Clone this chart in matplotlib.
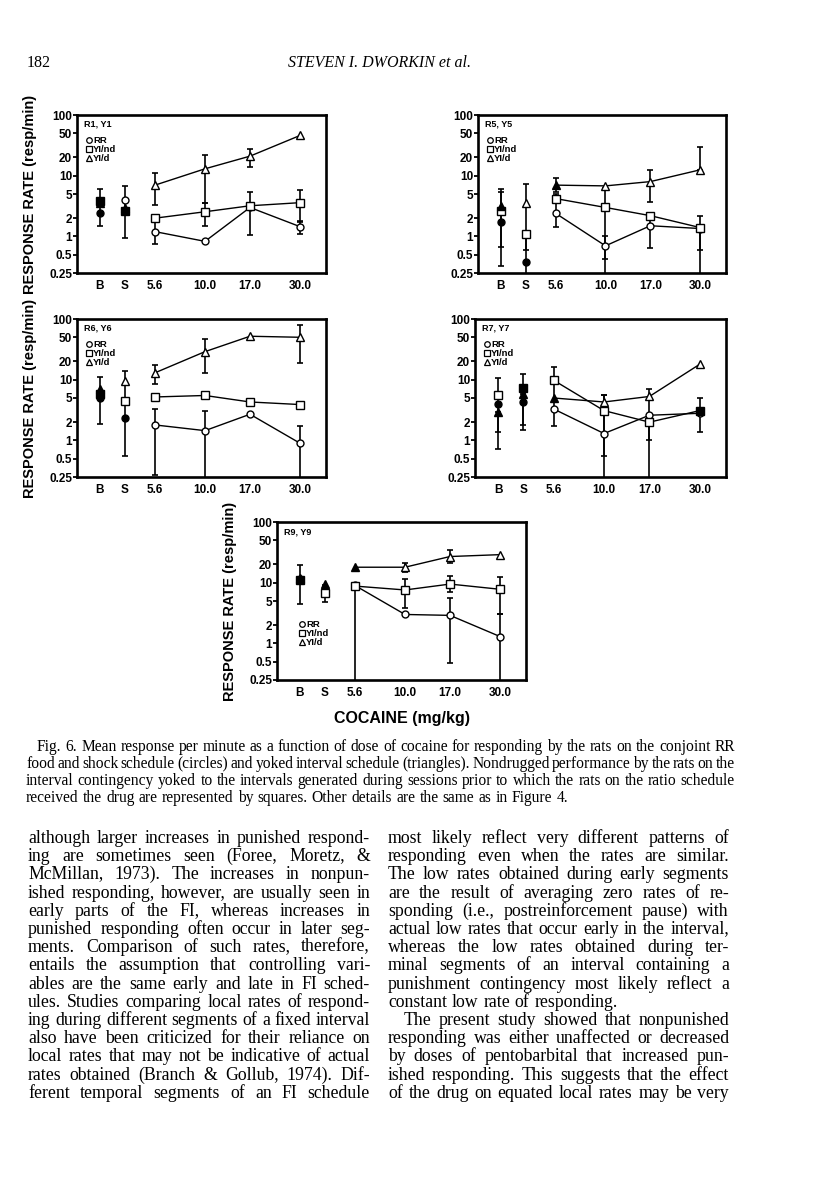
import numpy as np
import matplotlib
matplotlib.use("Agg")
import matplotlib.pyplot as plt
from matplotlib.lines import Line2D

W, H = 816, 1193
nan = np.nan

# x axis: baseline, saline and the cocaine doses
doses = ["B", "S", "5.6", "10.0", "17.0", "30.0"]
dose_pos = [1.0, 2.0, 3.2, 5.2, 7.0, 9.0]
y_ticks = [0.25, 0.5, 1, 2, 5, 10, 20, 50, 100]
y_tick_labels = ["0.25", "0.5", "1", "2", "5", "10", "20", "50", "100"]
series_names = ["RR", "YI/nd", "YI/d"]

# R1, Y1
r1_rr = [2.4, 4.0, 1.2, 0.83, 3.0, 1.45]
r1_rr_lo = [1.5, 0.95, 0.75, nan, 1.05, 1.1]
r1_rr_hi = [6.0, 6.9, 1.9, nan, 5.3, 1.8]
r1_nd = [3.9, 2.6, 2.0, 2.55, 3.2, 3.6]
r1_nd_lo = [nan, nan, nan, 1.5, nan, 1.7]
r1_nd_hi = [nan, nan, nan, 3.6, nan, 5.8]
r1_d = [3.6, 2.9, 7.0, 13.0, 21.0, 46.0]
r1_d_lo = [nan, nan, 3.3, 3.6, 14.0, nan]
r1_d_hi = [nan, nan, 11.0, 22.0, 28.0, nan]

# R5, Y5
r5_rr = [1.7, 0.38, 2.4, 0.7, 1.5, 1.35]
r5_rr_lo = [0.33, 0.2, 1.45, 0.42, 0.65, 0.6]
r5_rr_hi = [6.0, 7.3, 5.0, 1.0, 2.4, 2.2]
r5_nd = [2.6, 1.1, 4.2, 3.0, 2.2, 1.4]
r5_nd_lo = [0.67, 0.6, nan, 0.2, nan, 0.2]
r5_nd_hi = [5.3, nan, nan, 6.3, nan, nan]
r5_d = [3.2, 3.5, 7.0, 6.8, 8.0, 12.5]
r5_d_lo = [nan, nan, 5.3, nan, 3.7, nan]
r5_d_hi = [nan, nan, 9.0, nan, 12.5, 30.0]

# R6, Y6
r6_rr = [5.0, 2.3, 1.8, 1.45, 2.7, 0.9]
r6_rr_lo = [1.9, 0.55, 0.27, 0.2, nan, 0.2]
r6_rr_hi = [11.0, 14.0, 3.3, 3.0, nan, 1.7]
r6_nd = [5.8, 4.5, 5.2, 5.5, 4.3, 3.9]
r6_nd_lo = [nan, nan, nan, nan, 3.8, 3.5]
r6_nd_hi = [nan, nan, nan, nan, 4.8, 4.2]
r6_d = [7.0, 9.5, 13.0, 29.0, 52.0, 50.0]
r6_d_lo = [nan, nan, 8.5, 13.0, nan, 19.0]
r6_d_hi = [nan, nan, 17.5, 46.0, nan, 80.0]

# R7, Y7
r7_rr = [4.0, 4.3, 3.3, 1.3, 2.6, 2.8]
r7_rr_lo = [0.72, 1.5, nan, 0.2, 0.2, nan]
r7_rr_hi = [10.5, 12.5, nan, 5.5, nan, nan]
r7_nd = [5.6, 7.3, 9.8, 3.1, 2.0, 3.1]
r7_nd_lo = [nan, nan, 1.7, nan, nan, 1.4]
r7_nd_hi = [nan, nan, 16.0, nan, nan, 5.0]
r7_d = [2.9, 5.8, 5.0, 4.3, 5.3, 18.0]
r7_d_lo = [1.4, 1.8, nan, 0.55, 1.0, nan]
r7_d_hi = [nan, nan, nan, 5.6, 7.0, nan]

# R9, Y9
r9_rr = [11.5, 7.0, 9.0, 3.0, 2.9, 1.3]
r9_rr_lo = [4.5, 4.8, 0.2, nan, 0.47, 0.2]
r9_rr_hi = [19.5, 9.0, nan, nan, 5.5, 3.0]
r9_nd = [11.0, 6.8, 8.8, 7.6, 9.5, 7.8]
r9_nd_lo = [nan, nan, nan, 3.8, 7.0, 3.0]
r9_nd_hi = [nan, nan, nan, 11.5, 13.0, 12.5]
r9_d = [12.0, 9.5, 18.0, 18.0, 27.0, 29.0]
r9_d_lo = [nan, nan, nan, 15.0, 21.0, nan]
r9_d_hi = [nan, nan, nan, 21.0, 35.0, nan]

# which points print as solid symbols
r1_fill = [[1, 0, 0, 0, 0, 0], [1, 1, 0, 0, 0, 0], [1, 1, 0, 0, 0, 0]]
r5_fill = [[1, 1, 0, 0, 0, 0], [0, 0, 0, 0, 0, 0], [1, 0, 1, 0, 0, 0]]
r6_fill = [[1, 1, 0, 0, 0, 0], [1, 0, 0, 0, 0, 0], [1, 0, 0, 0, 0, 0]]
r7_fill = [[1, 1, 0, 0, 0, 0], [0, 1, 0, 0, 0, 1], [1, 1, 1, 0, 0, 0]]
r9_fill = [[1, 1, 0, 0, 0, 0], [1, 0, 0, 0, 0, 0], [1, 1, 1, 0, 0, 0]]

caption = [
    "Fig. 6.   Mean response per minute as a function of dose of cocaine for responding by the rats on the conjoint RR",
    "food and shock schedule (circles) and yoked interval schedule (triangles). Nondrugged performance by the rats on the",
    "interval contingency yoked to the intervals generated during sessions prior to which the rats on the ratio schedule",
    "received the drug are represented by squares. Other details are the same as in Figure 4.",
]
left_col = [
    "although larger increases in punished respond-",
    "ing are sometimes seen (Foree, Moretz, &",
    "McMillan, 1973). The increases in nonpun-",
    "ished responding, however, are usually seen in",
    "early parts of the FI, whereas increases in",
    "punished responding often occur in later seg-",
    "ments. Comparison of such rates, therefore,",
    "entails the assumption that controlling vari-",
    "ables are the same early and late in FI sched-",
    "ules. Studies comparing local rates of respond-",
    "ing during different segments of a fixed interval",
    "also have been criticized for their reliance on",
    "local rates that may not be indicative of actual",
    "rates obtained (Branch & Gollub, 1974). Dif-",
    "ferent temporal segments of an FI schedule",
]
right_col = [
    "most likely reflect very different patterns of",
    "responding even when the rates are similar.",
    "The low rates obtained during early segments",
    "are the result of averaging zero rates of re-",
    "sponding (i.e., postreinforcement pause) with",
    "actual low rates that occur early in the interval,",
    "whereas the low rates obtained during ter-",
    "minal segments of an interval containing a",
    "punishment contingency most likely reflect a",
    "constant low rate of responding.",
    "The present study showed that nonpunished",
    "responding was either unaffected or decreased",
    "by doses of pentobarbital that increased pun-",
    "ished responding. This suggests that the effect",
    "of the drug on equated local rates may be very",
]

panels = [
    dict(title="R1, Y1", box=(77, 115, 326, 273), ylab=True, leg=(10, 21), fill=r1_fill,
         data=[(r1_rr, r1_rr_lo, r1_rr_hi), (r1_nd, r1_nd_lo, r1_nd_hi), (r1_d, r1_d_lo, r1_d_hi)]),
    dict(title="R5, Y5", box=(478, 115, 726, 273), ylab=False, leg=(10, 21), fill=r5_fill,
         data=[(r5_rr, r5_rr_lo, r5_rr_hi), (r5_nd, r5_nd_lo, r5_nd_hi), (r5_d, r5_d_lo, r5_d_hi)]),
    dict(title="R6, Y6", box=(77, 319, 326, 477), ylab=True, leg=(10, 21), fill=r6_fill,
         data=[(r6_rr, r6_rr_lo, r6_rr_hi), (r6_nd, r6_nd_lo, r6_nd_hi), (r6_d, r6_d_lo, r6_d_hi)]),
    dict(title="R7, Y7", box=(475, 319, 726, 477), ylab=False, leg=(10, 21), fill=r7_fill,
         data=[(r7_rr, r7_rr_lo, r7_rr_hi), (r7_nd, r7_nd_lo, r7_nd_hi), (r7_d, r7_d_lo, r7_d_hi)]),
    dict(title="R9, Y9", box=(277, 522, 526, 680), ylab=True, leg=(23, 98), fill=r9_fill,
         data=[(r9_rr, r9_rr_lo, r9_rr_hi), (r9_nd, r9_nd_lo, r9_nd_hi), (r9_d, r9_d_lo, r9_d_hi)]),
]

markers = ["o", "s", "^"]
msizes = [5.0, 5.2, 5.4]
sans = "Liberation Sans"
serif = "Liberation Serif"

fig = plt.figure(figsize=(W / 100, H / 100), dpi=100)


def draw_series(ax, vals, lo, hi, marker, ms, fills):
    x = np.array(dose_pos)
    v = np.array(vals, float)
    lo = np.array(lo, float)
    hi = np.array(hi, float)
    ax.plot(x[2:], v[2:], color="k", lw=1.0, zorder=2)
    ok = ~(np.isnan(lo) & np.isnan(hi))
    dlo = np.where(np.isnan(lo), 0, v - lo)
    dhi = np.where(np.isnan(hi), 0, hi - v)
    ax.errorbar(x[ok], v[ok], yerr=[dlo[ok], dhi[ok]], fmt="none", ecolor="k",
                elinewidth=1.2, capsize=2.0, capthick=1.2, zorder=1)
    for xi, vi, f in zip(x, v, fills):
        ax.plot(xi, vi, marker=marker, ms=ms, mfc="k" if f else "w", mec="k",
                mew=1.0, ls="none", zorder=3)


for p in panels:
    l, t, r, b = p["box"]
    ax = fig.add_axes([l / W, 1 - b / H, (r - l) / W, (b - t) / H])
    for k in range(3):
        vals, lo, hi = p["data"][k]
        draw_series(ax, vals, lo, hi, markers[k], msizes[k], p["fill"][k])
    ax.set_yscale("log")
    ax.set_ylim(0.25, 100)
    ax.set_xlim(0.08, 10.04)
    ax.set_yticks(y_ticks)
    ax.set_yticklabels(y_tick_labels)
    ax.yaxis.set_minor_locator(matplotlib.ticker.NullLocator())
    ax.set_xticks(dose_pos)
    ax.set_xticklabels(doses)
    ax.tick_params(axis="y", direction="out", length=3, width=1.3, pad=0.5, labelsize=8.5)
    ax.tick_params(axis="x", length=0, pad=5, labelsize=8.5)
    for lab in ax.get_xticklabels() + ax.get_yticklabels():
        lab.set_fontweight("bold")
        lab.set_family(sans)
    for s in ax.spines.values():
        s.set_linewidth(1.9)
    ax.text(7 / (r - l), 1 - 5 / (b - t), p["title"], transform=ax.transAxes, va="top",
            ha="left", fontsize=6.5, fontweight="bold", family=sans)
    handles = [Line2D([], [], marker=m, ls="none", mfc="w", mec="k", mew=0.9, ms=4.0)
               for m in markers]
    lx, ly = p["leg"]
    ax.legend(handles, series_names, loc="upper left",
              bbox_to_anchor=(lx / (r - l), 1 - ly / (b - t)), frameon=False,
              handlelength=0.5, handletextpad=0.15, labelspacing=0.0, borderpad=0,
              borderaxespad=0, prop=dict(family=sans, weight="bold", size=6.8))
    if p["ylab"]:
        ax.set_ylabel("RESPONSE RATE (resp/min)", fontsize=10.5, fontweight="bold", family=sans)
        ax.yaxis.set_label_coords(-40 / (r - l), 0.5)

ax.set_xlabel("COCAINE (mg/kg)", fontsize=11.5, fontweight="bold", family=sans)
ax.xaxis.set_label_coords(0.5, -31 / 158)

# page text, one Text per word so lines can be justified
renderer = fig.canvas.get_renderer()


def text_line(s, x0, x1, base, size, justify, style="normal"):
    words = s.split()
    objs = [fig.text(0, 0, w_, fontsize=size, family=serif, style=style, va="baseline")
            for w_ in words]
    widths = [o.get_window_extent(renderer).width for o in objs]
    if justify and len(words) > 1:
        gap = (x1 - x0 - sum(widths)) / (len(words) - 1)
    else:
        gap = size * 0.27 * 100 / 72
    x = x0
    for o, w_ in zip(objs, widths):
        # agg rounds the glyph box, so offset by the fractional descent to keep words on one baseline
        d = renderer.get_text_width_height_descent(o.get_text(), o.get_fontproperties(), False)[2]
        yb = round(base) - (d - np.floor(d)) + 1e-4
        o.set_position((x / W, 1 - yb / H))
        x += w_ + gap


fig.text(27 / W, 1 - 67 / H, "182", fontsize=11.5, family=serif, va="baseline")
fig.text(380 / W, 1 - 67 / H, "STEVEN I. DWORKIN et al.", fontsize=11.5, family=serif,
         style="italic", ha="center", va="baseline")

for i, line in enumerate(caption):
    x0 = 37 if i == 0 else 26
    text_line(line, x0, 735, 751 + 17 * i, 11.2, i < len(caption) - 1)

for i, line in enumerate(left_col):
    text_line(line, 28, 370, 843 + 18.2 * i, 12.8, True)

for i, line in enumerate(right_col):
    x0 = 404 if i == 10 else 388
    text_line(line, x0, 729, 843 + 18.2 * i, 12.8, i != 9)

fig.savefig("out.png", dpi=100)
